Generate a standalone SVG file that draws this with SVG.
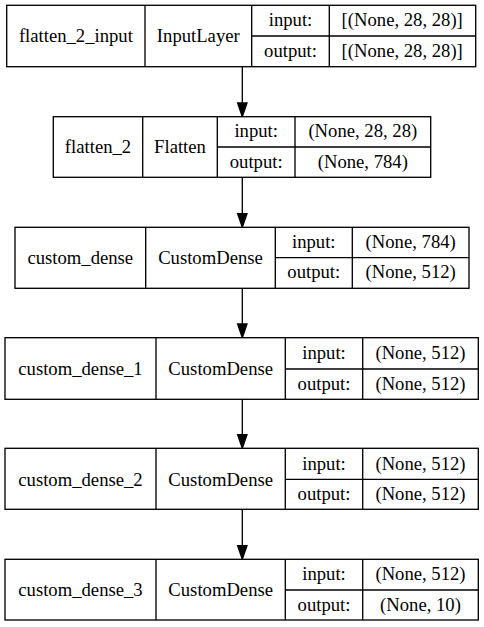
<svg xmlns="http://www.w3.org/2000/svg" width="484" height="627" viewBox="0 0 484 627">
<defs>
<style>
.b{fill:#fff;stroke:#000;stroke-width:1.33}
.l{stroke:#000;stroke-width:1.33;fill:none}
.e{stroke:#000;stroke-width:1.33;fill:none}
.h{fill:#000;stroke:#000;stroke-width:1.33}
</style>
</defs>
<rect width="484" height="627" fill="#fff"/>
<g id="connectors">
<path class="e" d="M242.3,66.7V103"/><polygon class="h" points="237.6,103 247,103 242.3,116.7"/>
<path class="e" d="M242.3,177.3V213.6"/><polygon class="h" points="237.6,213.6 247,213.6 242.3,227.3"/>
<path class="e" d="M242.3,288.3V324"/><polygon class="h" points="237.6,324 247,324 242.3,337.7"/>
<path class="e" d="M242.3,399.3V434.6"/><polygon class="h" points="237.6,434.6 247,434.6 242.3,448.3"/>
<path class="e" d="M242.3,509.3V545.6"/><polygon class="h" points="237.6,545.6 247,545.6 242.3,559.3"/>
</g>
<g id="flatten_2_input">
<rect class="b" x="6.7" y="5.3" width="469" height="61.4"/>
<path class="l" d="M145,5.3V66.7M251.7,5.3V66.7M329.3,5.3V66.7M251.7,36H475.7"/>
<text font-family="Liberation Serif" font-size="18.67" text-anchor="middle" x="75.9" y="42.3">flatten_2_input</text>
<text font-family="Liberation Serif" font-size="18.67" text-anchor="middle" x="198.3" y="42.3">InputLayer</text>
<text font-family="Liberation Serif" font-size="18.67" text-anchor="middle" x="290.5" y="26.2">input:</text>
<text font-family="Liberation Serif" font-size="18.67" text-anchor="middle" x="402.2" y="26.2">[(None, 28, 28)]</text>
<text font-family="Liberation Serif" font-size="18.67" text-anchor="middle" x="290.5" y="56.6">output:</text>
<text font-family="Liberation Serif" font-size="18.67" text-anchor="middle" x="402.2" y="56.6">[(None, 28, 28)]</text>
</g>
<g id="flatten_2">
<rect class="b" x="53.3" y="116.7" width="377.4" height="60.6"/>
<path class="l" d="M142.7,116.7V177.3M217.3,116.7V177.3M295,116.7V177.3M217.3,147H430.7"/>
<text font-family="Liberation Serif" font-size="18.67" text-anchor="middle" x="98" y="153.3">flatten_2</text>
<text font-family="Liberation Serif" font-size="18.67" text-anchor="middle" x="180" y="153.3">Flatten</text>
<text font-family="Liberation Serif" font-size="18.67" text-anchor="middle" x="256.2" y="137.2">input:</text>
<text font-family="Liberation Serif" font-size="18.67" text-anchor="middle" x="362.8" y="137.2">(None, 28, 28)</text>
<text font-family="Liberation Serif" font-size="18.67" text-anchor="middle" x="256.2" y="167.6">output:</text>
<text font-family="Liberation Serif" font-size="18.67" text-anchor="middle" x="362.8" y="167.6">(None, 784)</text>
</g>
<g id="custom_dense">
<rect class="b" x="15" y="227.3" width="454" height="61"/>
<path class="l" d="M145.7,227.3V288.3M275.3,227.3V288.3M352.3,227.3V288.3M275.3,257.7H469"/>
<text font-family="Liberation Serif" font-size="18.67" text-anchor="middle" x="80.3" y="264">custom_dense</text>
<text font-family="Liberation Serif" font-size="18.67" text-anchor="middle" x="210.5" y="264">CustomDense</text>
<text font-family="Liberation Serif" font-size="18.67" text-anchor="middle" x="313.8" y="248">input:</text>
<text font-family="Liberation Serif" font-size="18.67" text-anchor="middle" x="410.7" y="248">(None, 784)</text>
<text font-family="Liberation Serif" font-size="18.67" text-anchor="middle" x="313.8" y="278.4">output:</text>
<text font-family="Liberation Serif" font-size="18.67" text-anchor="middle" x="410.7" y="278.4">(None, 512)</text>
</g>
<g id="custom_dense_1">
<rect class="b" x="5" y="337.7" width="473.3" height="61.6"/>
<path class="l" d="M156,337.7V399.3M285.3,337.7V399.3M362.7,337.7V399.3M285.3,369H478.3"/>
<text font-family="Liberation Serif" font-size="18.67" text-anchor="middle" x="80.5" y="375.3">custom_dense_1</text>
<text font-family="Liberation Serif" font-size="18.67" text-anchor="middle" x="220.7" y="375.3">CustomDense</text>
<text font-family="Liberation Serif" font-size="18.67" text-anchor="middle" x="324" y="359">input:</text>
<text font-family="Liberation Serif" font-size="18.67" text-anchor="middle" x="420.5" y="359">(None, 512)</text>
<text font-family="Liberation Serif" font-size="18.67" text-anchor="middle" x="324" y="389.6">output:</text>
<text font-family="Liberation Serif" font-size="18.67" text-anchor="middle" x="420.5" y="389.6">(None, 512)</text>
</g>
<g id="custom_dense_2">
<rect class="b" x="5" y="448.3" width="473.3" height="61"/>
<path class="l" d="M156,448.3V509.3M285.3,448.3V509.3M362.7,448.3V509.3M285.3,479.3H478.3"/>
<text font-family="Liberation Serif" font-size="18.67" text-anchor="middle" x="80.5" y="485.6">custom_dense_2</text>
<text font-family="Liberation Serif" font-size="18.67" text-anchor="middle" x="220.7" y="485.6">CustomDense</text>
<text font-family="Liberation Serif" font-size="18.67" text-anchor="middle" x="324" y="469.5">input:</text>
<text font-family="Liberation Serif" font-size="18.67" text-anchor="middle" x="420.5" y="469.5">(None, 512)</text>
<text font-family="Liberation Serif" font-size="18.67" text-anchor="middle" x="324" y="499.9">output:</text>
<text font-family="Liberation Serif" font-size="18.67" text-anchor="middle" x="420.5" y="499.9">(None, 512)</text>
</g>
<g id="custom_dense_3">
<rect class="b" x="5" y="559.3" width="473.3" height="60.7"/>
<path class="l" d="M156,559.3V620M285.3,559.3V620M362.7,559.3V620M285.3,590H478.3"/>
<text font-family="Liberation Serif" font-size="18.67" text-anchor="middle" x="80.5" y="596.3">custom_dense_3</text>
<text font-family="Liberation Serif" font-size="18.67" text-anchor="middle" x="220.7" y="596.3">CustomDense</text>
<text font-family="Liberation Serif" font-size="18.67" text-anchor="middle" x="324" y="580.2">input:</text>
<text font-family="Liberation Serif" font-size="18.67" text-anchor="middle" x="420.5" y="580.2">(None, 512)</text>
<text font-family="Liberation Serif" font-size="18.67" text-anchor="middle" x="324" y="610.6">output:</text>
<text font-family="Liberation Serif" font-size="18.67" text-anchor="middle" x="420.5" y="610.6">(None, 10)</text>
</g>
</svg>
